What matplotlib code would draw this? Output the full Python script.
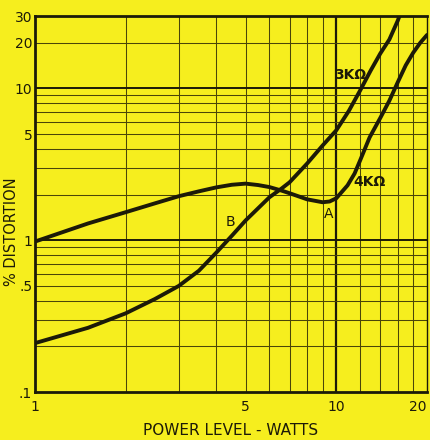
import matplotlib
matplotlib.use("Agg")
from matplotlib import pyplot as plt

# power level (watts) vs % distortion
watts_3k = [1, 1.5, 2, 2.5, 3, 3.5, 4, 4.5, 5, 6, 6.6, 7, 8, 9, 10, 11, 12, 13, 14, 15, 16, 16.5]
dist_3k = [0.21, 0.265, 0.33, 0.41, 0.5, 0.63, 0.83, 1.07, 1.35, 1.92, 2.2, 2.41, 3.2, 4.2, 5.3, 7.1, 9.7, 13.1, 17, 21, 28, 33]

watts_4k = [1, 1.5, 2, 2.5, 3, 3.5, 4, 4.5, 5, 5.5, 6, 6.6, 7, 8, 9, 9.5, 10, 10.9, 11.5, 12, 12.9, 14, 15, 16, 17, 18, 19, 20]
dist_4k = [0.98, 1.29, 1.53, 1.75, 1.95, 2.1, 2.23, 2.32, 2.36, 2.31, 2.24, 2.12, 2.04, 1.86, 1.78, 1.8, 1.89, 2.3, 2.75, 3.36, 4.76, 6.4, 8.3, 11, 14.2, 17.2, 20, 22.5]

x_ticks = [1, 5, 10, 20]
x_labels = ['1', '5', '10', '20']
y_ticks = [0.1, 0.5, 1, 5, 10, 20, 30]
y_labels = ['.1', '.5', '1', '5', '10', '20', '30']

x_grid = [2, 3, 4, 5, 6, 7, 8, 9, 12, 14, 16, 18]
y_grid = [0.2, 0.3, 0.4, 0.5, 0.6, 0.7, 0.8, 0.9, 2, 3, 4, 5, 6, 7, 8, 9, 20]

yellow = '#f6ee1e'
ink = '#1c1a08'
grid_col = '#4a4508'

fig = plt.figure(figsize=(4.31, 4.40), dpi=100, facecolor=yellow)
ax = fig.add_axes([0.0812, 0.109, 0.9095, 0.8546], facecolor=yellow)
ax.set_xscale('log')
ax.set_yscale('log')
ax.set_xlim(1, 20)
ax.set_ylim(0.1, 30)

# graph paper lines
for gx in x_grid:
    ax.axvline(gx, color=grid_col, lw=0.75, zorder=1)
ax.axvline(10, color=ink, lw=1.6, zorder=1)
for gy in y_grid:
    ax.axhline(gy, color=grid_col, lw=0.75, zorder=1)
ax.axhline(1, color=ink, lw=1.4, zorder=1)
ax.axhline(10, color=ink, lw=1.4, zorder=1)

ax.plot(watts_3k, dist_3k, color=ink, lw=2.8, solid_capstyle='round', solid_joinstyle='round', zorder=3)
ax.plot(watts_4k, dist_4k, color=ink, lw=2.8, solid_capstyle='round', solid_joinstyle='round', zorder=3)

ax.text(11.1, 12.2, '3KΩ', fontsize=10, fontweight='bold', color=ink, ha='center', va='center')
ax.text(12.9, 2.41, '4KΩ', fontsize=10, fontweight='bold', color=ink, ha='center', va='center')
ax.text(9.4, 1.5, 'A', fontsize=10, color=ink, ha='center', va='center')
ax.text(4.47, 1.31, 'B', fontsize=10, color=ink, ha='center', va='center')

ax.set_xticks(x_ticks)
ax.set_xticklabels(x_labels)
ax.set_yticks(y_ticks)
ax.set_yticklabels(y_labels)
ax.minorticks_off()
ax.tick_params(length=0, labelsize=10, colors=ink, pad=6)
ax.tick_params(axis='y', pad=2)
ax.get_xticklabels()[-1].set_horizontalalignment('right')

for side in ['left', 'bottom', 'top']:
    ax.spines[side].set_linewidth(2)
    ax.spines[side].set_color(ink)
ax.spines['right'].set_linewidth(1)
ax.spines['right'].set_color(ink)

ax.set_xlabel('POWER LEVEL - WATTS', fontsize=11, color=ink, labelpad=6)
fig.text(12 / 431, 1 - 232 / 440, '% DISTORTION', fontsize=10.5, color=ink,
         rotation=90, ha='center', va='center')

fig.savefig('out.png', dpi=100, facecolor=yellow)
